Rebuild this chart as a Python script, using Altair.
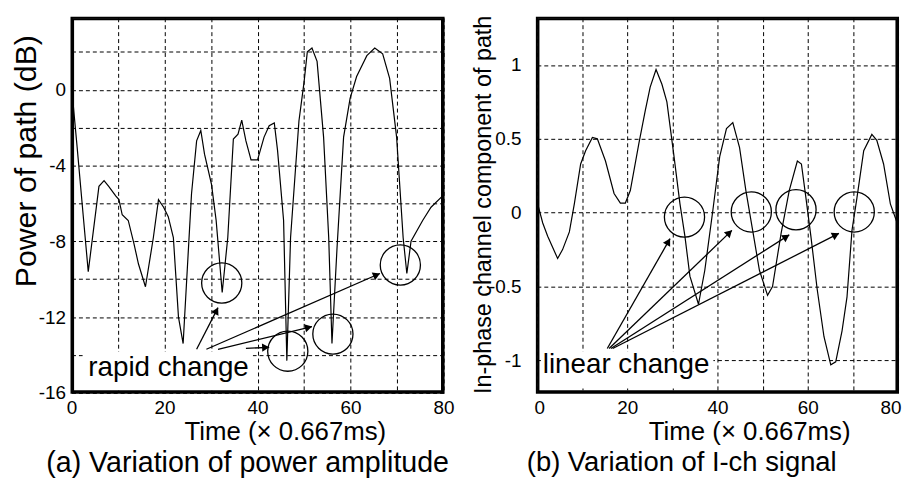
import math
import altair as alt
import pandas as pd

FONT = "Liberation Sans, Arial, Helvetica, sans-serif"

# ---------------- panel (a): power of path (dB) ----------------
t_a = [0, 1.2, 2.5, 3.6, 5.9, 7.0, 8.0, 9.5, 10.2, 10.9, 12.2, 13.4, 14.4, 15.9,
       17.6, 18.7, 19.8, 20.8, 21.9, 23.0, 24.0, 25.8, 26.9, 27.8, 28.6, 30.1,
       31.1, 32.4, 33.6, 34.8, 35.8, 36.6, 37.5, 38.6, 40.0, 41.4, 42.5, 43.6,
       44.3, 45.6, 46.3, 47.1, 48.9, 50.0, 50.7, 51.7, 52.8, 54.2, 55.3, 56.0,
       57.1, 58.5, 59.9, 61.3, 63.5, 65.2, 66.9, 68.4, 69.9, 71.3, 72.1, 73.0,
       75.5, 77.3, 79.8]
p_a = [0.2, -3.0, -6.6, -9.6, -5.1, -4.8, -5.1, -5.6, -5.8, -6.6, -6.9, -8.1,
       -9.2, -10.4, -7.8, -5.8, -6.2, -6.7, -7.8, -12.0, -13.4, -5.5, -2.7,
       -2.15, -3.4, -5.0, -6.9, -10.7, -7.8, -2.6, -2.35, -1.6, -2.7, -3.7,
       -3.7, -2.5, -1.9, -1.75, -3.2, -6.9, -14.3, -7.8, -1.65, 0.4, 2.0, 2.2,
       1.5, -2.5, -7.8, -13.4, -8.3, -2.5, -0.45, 0.7, 1.8, 2.2, 1.9, 0.6, -2.5,
       -7.8, -9.7, -8.0, -6.9, -6.2, -5.6]

circ_a_t = [32.3, 46.5, 56.2, 70.7]
circ_a_v = [-10.2, -13.8, -12.9, -9.25]
arr_a_t1 = [26.9, 29.0, 31.5, 37.5]
arr_a_v1 = [-13.7, -13.7, -13.7, -13.65]
arr_a_t2 = [31.5, 66.3, 51.7, 42.5]
arr_a_v2 = [-11.5, -9.7, -12.5, -13.6]
note_a = ["rapid change"]
note_a_t = [3.6]
note_a_v = [-15.1]
box_a = [2.4, 39.0, -13.85, -15.85]

# ---------------- panel (b): in-phase channel ----------------
t_b = [0, 1.3, 2.4, 4.6, 5.7, 7.2, 8.3, 9.7, 10.8, 12.3, 13.4, 15.2, 17.1,
       18.5, 19.6, 20.7, 22.6, 24.0, 25.1, 26.4, 27.7, 28.8, 30.3, 31.7, 32.8,
       33.9, 35.8, 37.2, 39.0, 40.5, 42.0, 43.4, 44.9, 46.3, 47.8, 49.3, 51.1,
       52.2, 54.1, 55.9, 57.7, 58.6, 59.6, 60.7, 62.1, 63.6, 65.1, 66.2, 67.6,
       68.7, 69.8, 70.9, 72.4, 74.2, 75.3, 76.8, 78.3, 79.7]
i_b = [0.08, -0.07, -0.16, -0.31, -0.25, -0.13, 0.06, 0.33, 0.42, 0.51, 0.50,
       0.35, 0.13, 0.065, 0.065, 0.15, 0.47, 0.69, 0.85, 0.97, 0.87, 0.75,
       0.40, 0.06, -0.16, -0.43, -0.62, -0.39, 0.02, 0.38, 0.57, 0.61, 0.44,
       0.15, -0.12, -0.39, -0.56, -0.50, -0.14, 0.15, 0.35, 0.33, 0.10, -0.16,
       -0.52, -0.84, -1.03, -1.01, -0.80, -0.57, -0.12, 0.10, 0.42, 0.53, 0.49,
       0.33, 0.06, -0.06]

circ_b_t = [32.7, 47.5, 57.4, 70.3]
circ_b_v = [-0.03, 0.005, 0.02, 0.005]
arr_b_t1 = [15.6, 16.0, 16.4, 16.8]
arr_b_v1 = [-0.92, -0.92, -0.92, -0.92]
arr_b_t2 = [29.5, 43.2, 55.9, 66.9]
arr_b_v2 = [-0.176, -0.12, -0.15, -0.14]
note_b = ["linear change"]
note_b_t = [1.3]
note_b_v = [-1.087]
box_b = [0.9, 39.1, -0.94, -1.19]

X_DOM = [0, 80]
YA_DOM = [-16, 3.8]
YB_DOM = [-1.22, 1.32]
WA, WB, H = 375, 364, 378


def arrow_frames(t1, v1, t2, v2, sx, sy):
    rows, heads = [], []
    for a, b, c, d in zip(t1, v1, t2, v2):
        dx = (c - a) * sx
        dy = -(d - b) * sy
        L = math.hypot(dx, dy)
        ux, uy = dx / L, dy / L
        ang = math.degrees(math.atan2(dy, dx)) % 360
        rows.append({"t": a, "v": b, "t2": c, "v2": d})
        heads.append({"t": c - 3.5 * ux / sx, "v": d + 3.5 * uy / sy, "ang": ang})
    return pd.DataFrame(rows), pd.DataFrame(heads)


def panel(tt, vv, ct, cv, at1, av1, at2, av2, note, nt, nv, box, ydom, W,
          yvals, ylabexpr, ytitle, ytsize, ytx, yty, ylabpad, xtitlex,
          caption, capsize, capdx, xflush):
    sx = W / (X_DOM[1] - X_DOM[0])
    sy = H / (ydom[1] - ydom[0])
    xs = alt.Scale(domain=X_DOM, nice=False, zero=False)
    ys = alt.Scale(domain=ydom, nice=False, zero=False)
    xflush_kw = dict(labelFlush=True, labelFlushOffset=3) if xflush else dict(labelFlush=False)
    xax = alt.Axis(values=list(range(0, 81, 10)),
                   labelExpr="datum.value % 20 == 0 ? datum.label : ''",
                   grid=True, gridDash=[4, 3], gridColor="black", gridWidth=1,
                   gridOpacity=1, ticks=False, domain=False,
                   labelFontSize=19, labelPadding=6, labelColor="black",
                   labelFont=FONT, title="Time (× 0.667ms)", titleFont=FONT,
                   titleFontSize=26, titleFontWeight="normal", titleColor="black",
                   titleX=xtitlex, titleY=47, titleBaseline="alphabetic", **xflush_kw)
    yax = alt.Axis(values=yvals, labelExpr=ylabexpr,
                   grid=True, gridDash=[4, 3], gridColor="black", gridWidth=1,
                   gridOpacity=1, ticks=False, domain=False, labelFlush=False,
                   labelFontSize=19, labelPadding=ylabpad, labelColor="black",
                   labelFont=FONT, title=ytitle, titleFont=FONT,
                   titleFontSize=ytsize, titleFontWeight="normal", titleColor="black",
                   titleX=ytx, titleY=yty, titleBaseline="middle", titleAngle=270)

    line_df = pd.DataFrame({"t": tt, "v": vv})
    base_line = alt.Chart(line_df).mark_line(color="black", strokeWidth=1.2).encode(
        x=alt.X("t:Q", scale=xs, axis=xax),
        y=alt.Y("v:Q", scale=ys, axis=yax),
    )
    # plot frame, drawn slightly inside the plot area
    frame = alt.Chart(pd.DataFrame({"k": [0]})).mark_rect(
        fillOpacity=0, stroke="black", strokeWidth=2.2).encode(
        x=alt.value(1.5), x2=alt.value(W - 1.5), y=alt.value(1.5), y2=alt.value(H - 1.5))
    box_df = pd.DataFrame({"t": [box[0]], "t2": [box[1]], "v": [box[2]], "v2": [box[3]]})
    box_l = alt.Chart(box_df).mark_rect(color="white").encode(
        x=alt.X("t:Q", scale=xs), x2="t2:Q", y=alt.Y("v:Q", scale=ys), y2="v2:Q")
    note_df = pd.DataFrame({"t": nt, "v": nv, "txt": note})
    note_l = alt.Chart(note_df).mark_text(align="left", baseline="alphabetic",
                                          fontSize=28, font=FONT, color="black").encode(
        x=alt.X("t:Q", scale=xs), y=alt.Y("v:Q", scale=ys), text="txt:N")
    circ_df = pd.DataFrame({"t": ct, "v": cv})
    circ_l = alt.Chart(circ_df).mark_point(shape="circle", filled=False, size=1640,
                                           color="black", strokeWidth=1.3, opacity=1).encode(
        x=alt.X("t:Q", scale=xs), y=alt.Y("v:Q", scale=ys))
    arr_df, head_df = arrow_frames(at1, av1, at2, av2, sx, sy)
    arr_l = alt.Chart(arr_df).mark_rule(color="black", strokeWidth=1.3).encode(
        x=alt.X("t:Q", scale=xs), x2="t2:Q", y=alt.Y("v:Q", scale=ys), y2="v2:Q")
    head_l = alt.Chart(head_df).mark_point(shape="triangle-right", filled=True, size=70,
                                           color="black", opacity=1).encode(
        x=alt.X("t:Q", scale=xs), y=alt.Y("v:Q", scale=ys),
        angle=alt.Angle("ang:Q", scale=None))
    return alt.layer(base_line, box_l, note_l, circ_l, arr_l, head_l, frame).properties(
        width=W, height=H,
        title=alt.TitleParams(text=caption, orient="bottom", anchor="middle",
                              fontSize=capsize, fontWeight="normal", font=FONT,
                              color="black", dx=capdx, offset=5))


left = panel(t_a, p_a, circ_a_t, circ_a_v, arr_a_t1, arr_a_v1, arr_a_t2, arr_a_v2,
             note_a, note_a_t, note_a_v, box_a, YA_DOM, WA,
             list(range(-16, 3, 2)),
             "datum.value % 4 == 0 ? toString(datum.value) : ''",
             "Power of path (dB)", 30.5, -45, 144, 6, 215,
             "(a) Variation of power amplitude", 28.8, -10, False)
right = panel(t_b, i_b, circ_b_t, circ_b_v, arr_b_t1, arr_b_v1, arr_b_t2, arr_b_v2,
              note_b, note_b_t, note_b_v, box_b, YB_DOM, WB,
              [-1, -0.5, 0, 0.5, 1], "toString(datum.value)",
              "In-phase channel component of path", 23.5, -54, 188, 16, 214,
              "(b) Variation of I-ch signal", 27.6, -36, True)

chart = alt.hconcat(left, right, spacing=14).properties(
    padding={"left": 2, "top": 4, "right": 0, "bottom": 0}
).configure(font=FONT, background="white").configure_view(
    stroke="black", strokeWidth=2)

chart.save("out.html", embed_options={"renderer": "svg", "actions": False})
